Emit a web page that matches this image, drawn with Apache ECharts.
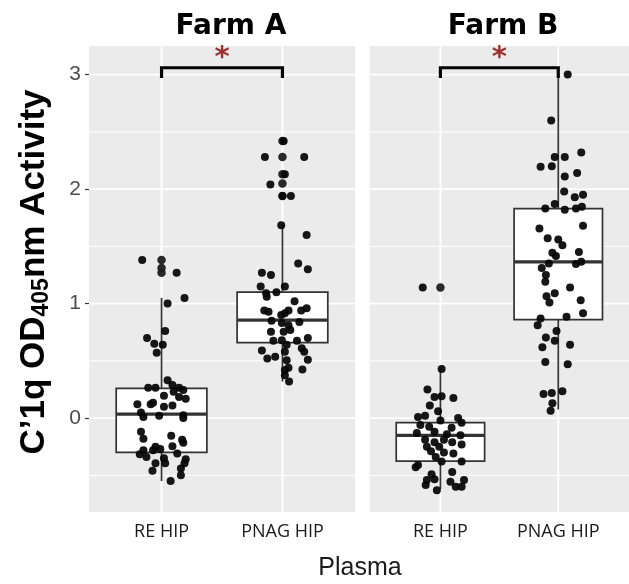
<!DOCTYPE html>
<html>
<head>
<meta charset="utf-8">
<script src="https://cdn.jsdelivr.net/npm/echarts@6/dist/echarts.min.js"></script>
<style>
  html, body { margin: 0; padding: 0; background: #ffffff; }
  #chart { width: 629px; height: 584px; }
</style>
</head>
<body>
<div id="chart"></div>
<script>
// Facets and groups
const farms = ['Farm A', 'Farm B'];
const plasmaGroups = ['RE HIP', 'PNAG HIP'];
const yMajorTicks = [0, 1, 2, 3];
const yMinorTicks = [-0.5, 0.5, 1.5, 2.5];
const xMajorTicks = [1, 2];

// Box statistics per group: [lower whisker, Q1, median, Q3, upper whisker]
const farmABoxStats = [
  [-0.55, -0.30, 0.035, 0.26, 1.05],
  [0.32, 0.66, 0.855, 1.10, 1.69]
];
const farmBBoxStats = [
  [-0.62, -0.375, -0.15, -0.04, 0.43],
  [0.075, 0.86, 1.365, 1.83, 3.0]
];

// Outliers drawn by the box plot (at the group centre)
const farmAOutliers = [[1.38, 1.31, 1.27], [2.42, 2.28, 2.13, 2.05, 1.94]];
const farmBOutliers = [[1.14], []];

// Individual animals: [horizontal jitter, OD value]
const farmARe = [
  [-0.16,1.38],[0.125,1.27],[0.19,1.05],[0.05,1.00],[0.03,0.76],[-0.12,0.70],[-0.06,0.65],[0.01,0.64],[-0.04,0.57],
  [0.05,0.33],[0.09,0.29],[-0.11,0.265],[-0.05,0.265],[0.145,0.265],[0.18,0.245],[0.02,0.195],[0.10,0.23],[0.145,0.185],[0.20,0.17],
  [-0.20,0.12],[-0.09,0.12],[-0.07,0.135],[0.02,0.10],[0.09,0.11],[-0.17,0.05],[-0.15,0.01],[-0.02,0.02],[0.18,0.025],[0.18,0.0],
  [-0.17,-0.12],[-0.15,-0.18],[0.08,-0.155],[0.17,-0.19],[0.18,-0.215],[-0.05,-0.25],[0.09,-0.245],[-0.15,-0.28],[-0.07,-0.28],[-0.01,-0.27],
  [-0.18,-0.315],[-0.125,-0.34],[0.13,-0.31],[0.02,-0.35],[0.20,-0.36],[-0.05,-0.395],[0.03,-0.395],[0.19,-0.395],[-0.075,-0.46],
  [0.16,-0.44],[0.16,-0.50],[0.075,-0.55]
];
const farmAPnag = [
  [0.01,2.42],[-0.145,2.28],[0.18,2.28],[0.02,2.13],[-0.10,2.04],[0.0,1.94],[0.07,1.94],[-0.01,1.685],[0.20,1.60],[0.13,1.35],
  [0.21,1.30],[-0.17,1.27],[-0.095,1.25],[-0.18,1.15],[0.02,1.15],[-0.05,1.10],[-0.135,1.09],[-0.13,1.06],[0.10,1.02],[-0.15,0.94],
  [-0.115,0.93],[0.05,0.94],[0.155,0.94],[0.20,0.96],[-0.01,0.90],[0.02,0.915],[-0.09,0.85],[0.14,0.84],[-0.005,0.83],[0.05,0.81],
  [-0.095,0.755],[0.01,0.755],[0.065,0.77],[0.21,0.70],[-0.075,0.675],[-0.005,0.68],[0.12,0.675],[0.035,0.64],[0.16,0.61],[-0.17,0.59],
  [0.02,0.58],[0.18,0.58],[-0.125,0.52],[-0.06,0.535],[0.035,0.505],[0.21,0.51],[0.05,0.44],[0.02,0.42],[0.165,0.425],[0.02,0.375],
  [0.055,0.32]
];
const farmBRe = [
  [-0.15,1.14],[0.01,0.43],[-0.11,0.25],[-0.05,0.185],[0.01,0.19],[0.11,0.175],[-0.09,0.11],[-0.02,0.06],[-0.19,0.01],[-0.13,0.02],
  [0.0,-0.02],[0.15,0.0],[0.18,-0.04],[-0.17,-0.06],[-0.095,-0.075],[0.095,-0.085],[-0.20,-0.13],[-0.05,-0.12],[0.055,-0.14],[0.17,-0.15],
  [-0.13,-0.19],[-0.05,-0.21],[0.03,-0.19],[0.10,-0.21],[0.18,-0.23],[-0.115,-0.25],[-0.01,-0.25],[-0.08,-0.29],[0.03,-0.30],[0.11,-0.31],
  [-0.04,-0.34],[0.01,-0.38],[0.18,-0.38],[-0.19,-0.41],[-0.21,-0.43],[0.10,-0.47],[-0.075,-0.49],[-0.115,-0.54],[-0.05,-0.535],[0.085,-0.555],
  [0.20,-0.54],[-0.125,-0.585],[0.13,-0.60],[0.18,-0.60],[-0.03,-0.63]
];
const farmBPnag = [
  [0.08,3.0],[-0.06,2.60],[-0.03,2.28],[0.055,2.28],[0.195,2.32],[-0.15,2.195],[-0.055,2.20],[0.055,2.11],[0.16,2.14],[0.05,1.98],
  [0.14,1.93],[0.21,1.95],[-0.03,1.87],[-0.11,1.83],[0.055,1.82],[0.15,1.83],[0.20,1.845],[0.21,1.68],[-0.16,1.655],[-0.09,1.57],
  [0.0,1.56],[0.035,1.51],[-0.05,1.445],[-0.02,1.415],[0.175,1.45],[-0.08,1.35],[0.15,1.345],[0.195,1.365],[-0.14,1.31],[-0.105,1.25],
  [-0.11,1.19],[0.10,1.14],[-0.10,1.065],[-0.03,1.09],[-0.075,1.01],[0.19,1.03],[0.21,0.915],[0.07,0.885],[-0.15,0.87],[-0.175,0.81],
  [-0.015,0.76],[-0.105,0.705],[-0.03,0.675],[-0.135,0.62],[0.10,0.64],[-0.11,0.49],[0.08,0.47],[-0.125,0.21],[-0.055,0.22],[0.035,0.235],
  [-0.05,0.13],[-0.065,0.065]
];

// Significance bracket height and tip per farm, and its label
const bracketLevel = [3.06, 3.06];
const bracketTip = [2.97, 2.97];
const bracketLabel = ['*', '*'];
const starLevel = [3.14, 3.14];

// ---- layout ----
const X_MIN = 0.4, X_MAX = 2.6;
const Y_MIN = -0.82, Y_MAX = 3.25;
const BOX_HALF = 0.375;
const gridLefts = [89, 369.7];
const GRID_W = 266, GRID_TOP = 46, GRID_H = 466;
const titleCenters = [226, 498];

const boxStats = [farmABoxStats, farmBBoxStats];
const outliers = [farmAOutliers, farmBOutliers];
const points = [[farmARe, farmAPnag], [farmBRe, farmBPnag]];

const BOX_LINE = '#333333';

function renderBox(params, api) {
  const x = api.value(0);
  const lo = api.value(1), q1 = api.value(2), med = api.value(3), q3 = api.value(4), hi = api.value(5);
  const pLo = api.coord([x, lo]), pQ1 = api.coord([x, q1]);
  const pQ3 = api.coord([x, q3]), pHi = api.coord([x, hi]);
  const tl = api.coord([x - BOX_HALF, q3]), br = api.coord([x + BOX_HALF, q1]);
  const mL = api.coord([x - BOX_HALF, med]), mR = api.coord([x + BOX_HALF, med]);
  const ls = { stroke: BOX_LINE, lineWidth: 1.7 };
  return {
    type: 'group',
    children: [
      { type: 'line', shape: { x1: pLo[0], y1: pLo[1], x2: pQ1[0], y2: pQ1[1] }, style: ls },
      { type: 'line', shape: { x1: pQ3[0], y1: pQ3[1], x2: pHi[0], y2: pHi[1] }, style: ls },
      { type: 'rect', shape: { x: tl[0], y: tl[1], width: br[0] - tl[0], height: br[1] - tl[1] },
        style: { fill: '#ffffff', stroke: BOX_LINE, lineWidth: 1.7 } },
      { type: 'line', shape: { x1: mL[0], y1: mL[1], x2: mR[0], y2: mR[1] },
        style: { stroke: BOX_LINE, lineWidth: 3.2 } }
    ]
  };
}

function hLineRenderer(width) {
  return function (params, api) {
    const v = api.value(1);
    const a = api.coord([X_MIN, v]), b = api.coord([X_MAX, v]);
    return { type: 'line', shape: { x1: a[0], y1: a[1], x2: b[0], y2: b[1] },
             style: { stroke: '#ffffff', lineWidth: width } };
  };
}
function vLineRenderer(params, api) {
  const v = api.value(0);
  const a = api.coord([v, Y_MIN]), b = api.coord([v, Y_MAX]);
  return { type: 'line', shape: { x1: a[0], y1: a[1], x2: b[0], y2: b[1] },
           style: { stroke: '#ffffff', lineWidth: 1.9 } };
}

const grids = [], xAxes = [], yAxes = [], series = [];
farms.forEach((farm, i) => {
  grids.push({
    left: gridLefts[i], top: GRID_TOP, width: GRID_W, height: GRID_H,
    show: true, backgroundColor: '#ebebeb', borderWidth: 0
  });
  xAxes.push({
    gridIndex: i, type: 'value', min: X_MIN, max: X_MAX,
    axisLine: { show: false }, splitLine: { show: false }, axisTick: { show: false },
    axisLabel: {
      customValues: xMajorTicks,
      formatter: v => plasmaGroups[Math.round(v) - 1],
      fontFamily: 'Open Sans', fontSize: 18, color: '#1a1a1a', margin: 11
    }
  });
  yAxes.push({
    gridIndex: i, type: 'value', min: Y_MIN, max: Y_MAX,
    axisLine: { show: false }, splitLine: { show: false },
    axisTick: { show: i === 0, customValues: yMajorTicks, length: 4, lineStyle: { color: '#333333', width: 1.2 } },
    axisLabel: {
      show: i === 0, customValues: yMajorTicks,
      fontFamily: 'Liberation Sans', fontSize: 21, color: '#4d4d4d', margin: 8
    }
  });

  // panel grid lines
  series.push({
    type: 'custom', xAxisIndex: i, yAxisIndex: i, z: 1, silent: true,
    renderItem: hLineRenderer(1.0), encode: { x: 0, y: 1 },
    data: yMinorTicks.map(v => [X_MIN, v])
  });
  series.push({
    type: 'custom', xAxisIndex: i, yAxisIndex: i, z: 1, silent: true,
    renderItem: hLineRenderer(1.9), encode: { x: 0, y: 1 },
    data: yMajorTicks.map(v => [X_MIN, v])
  });
  series.push({
    type: 'custom', xAxisIndex: i, yAxisIndex: i, z: 1, silent: true,
    renderItem: vLineRenderer, encode: { x: 0, y: 1 },
    data: xMajorTicks.map(v => [v, 0])
  });

  // box plots
  series.push({
    type: 'custom', xAxisIndex: i, yAxisIndex: i, z: 2, silent: true,
    renderItem: renderBox, encode: { x: 0, y: [1, 2, 3, 4, 5] },
    data: boxStats[i].map((s, g) => [g + 1].concat(s))
  });

  // outliers at the group centres
  const outData = [];
  outliers[i].forEach((vals, g) => vals.forEach(v => outData.push([g + 1, v])));
  series.push({
    type: 'scatter', xAxisIndex: i, yAxisIndex: i, z: 3, silent: true,
    symbolSize: 8.5, itemStyle: { color: '#1e1e1e', opacity: 0.95 },
    data: outData
  });

  // jittered observations
  const ptData = [];
  points[i].forEach((grp, g) => grp.forEach(([dx, v]) => ptData.push([g + 1 + dx, v])));
  series.push({
    type: 'scatter', xAxisIndex: i, yAxisIndex: i, z: 4, silent: true,
    symbolSize: 8, itemStyle: { color: '#050505', opacity: 0.93 },
    data: ptData
  });

  // significance bracket
  series.push({
    type: 'line', xAxisIndex: i, yAxisIndex: i, z: 5, silent: true,
    symbol: 'none', animation: false,
    lineStyle: { color: '#000000', width: 3.2, cap: 'butt', join: 'miter' },
    data: [[1, bracketTip[i]], [1, bracketLevel[i]], [2, bracketLevel[i]], [2, bracketTip[i]]]
  });
  series.push({
    type: 'scatter', xAxisIndex: i, yAxisIndex: i, z: 5, silent: true,
    symbolSize: 0,
    label: {
      show: true, position: 'inside', formatter: bracketLabel[i],
      fontFamily: 'DejaVu Sans', fontWeight: 'bold', fontSize: 29, color: '#8b0000'
    },
    data: [[1.5, starLevel[i]]]
  });
});

const chart = echarts.init(document.getElementById('chart'), null, { renderer: 'canvas' });
chart.setOption({
  animation: false,
  backgroundColor: '#ffffff',
  title: farms.map((f, i) => ({
    text: f, left: titleCenters[i], top: 8, textAlign: 'center',
    textStyle: { fontFamily: 'DejaVu Sans', fontWeight: 'bold', fontSize: 28, color: '#000000' }
  })),
  grid: grids,
  xAxis: xAxes,
  yAxis: yAxes,
  series: series,
  graphic: [
    {
      type: 'text', x: 34, y: 272, rotation: Math.PI / 2,
      style: {
        text: '{a|C\u20191q OD}{s|405}{a|nm Activity}',
        align: 'center', verticalAlign: 'middle',
        rich: {
          a: { fontFamily: 'Liberation Sans', fontWeight: 'bold', fontSize: 35, fill: '#000000', lineHeight: 42 },
          s: { fontFamily: 'Liberation Sans', fontWeight: 'bold', fontSize: 23, fill: '#000000', lineHeight: 42, padding: [15, 0, 0, 0] }
        }
      }
    },
    {
      type: 'text', x: 360, y: 568,
      style: {
        text: 'Plasma', align: 'center', verticalAlign: 'middle',
        fontFamily: 'Liberation Sans', fontSize: 25, fill: '#1a1a1a'
      }
    }
  ]
});
</script>
</body>
</html>
